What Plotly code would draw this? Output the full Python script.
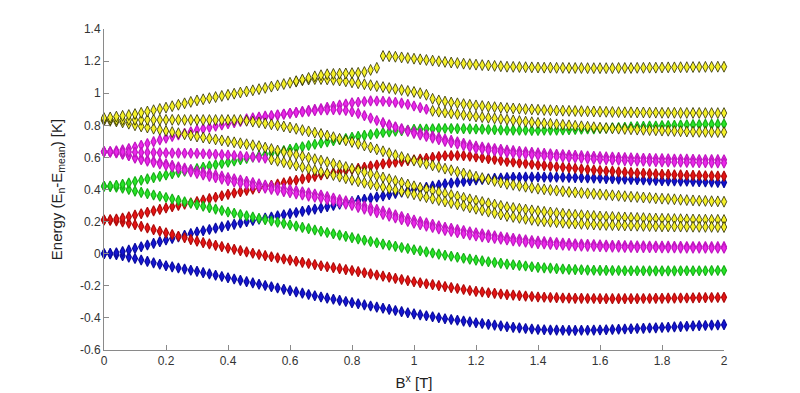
import plotly.graph_objects as go

# Field grid B^x [T] (sample points, step 0.02 T)
field = [round(0.02 * i, 2) for i in range(101)]

# Energy levels [K]; each series: (start field, values)
blue_low = [0, -0.002, -0.006, -0.013, -0.021, -0.030,
            -0.039, -0.048, -0.057, -0.066, -0.075, -0.082, -0.089, -0.096, -0.103, -0.110,
            -0.118, -0.126, -0.134, -0.142, -0.150, -0.158, -0.166, -0.174, -0.182, -0.190,
            -0.198, -0.206, -0.214, -0.222, -0.230, -0.238, -0.246, -0.254, -0.262, -0.270,
            -0.277, -0.284, -0.291, -0.298, -0.305, -0.312, -0.319, -0.326, -0.333, -0.340,
            -0.347, -0.354, -0.361, -0.368, -0.375, -0.381, -0.387, -0.393, -0.399, -0.405,
            -0.410, -0.415, -0.420, -0.425, -0.430, -0.435, -0.440, -0.445, -0.450, -0.455,
            -0.459, -0.462, -0.466, -0.469, -0.472, -0.474, -0.475, -0.476, -0.477, -0.478,
            -0.478, -0.477, -0.477, -0.476, -0.475, -0.474, -0.472, -0.471, -0.469, -0.468,
            -0.466, -0.465, -0.463, -0.462, -0.460, -0.458, -0.456, -0.454, -0.452, -0.450,
            -0.448, -0.447, -0.445, -0.444, -0.442]
blue_up = [0, 0.002, 0.006, 0.013, 0.022, 0.033,
           0.043, 0.054, 0.064, 0.075, 0.085, 0.095, 0.105, 0.115, 0.125, 0.135,
           0.143, 0.151, 0.159, 0.167, 0.175, 0.183, 0.191, 0.199, 0.207, 0.215,
           0.222, 0.229, 0.236, 0.243, 0.250, 0.257, 0.264, 0.271, 0.278, 0.285,
           0.293, 0.301, 0.309, 0.317, 0.325, 0.332, 0.339, 0.346, 0.353, 0.360,
           0.368, 0.376, 0.384, 0.392, 0.400, 0.407, 0.414, 0.421, 0.428, 0.435,
           0.440, 0.445, 0.450, 0.455, 0.460, 0.463, 0.466, 0.469, 0.472, 0.475,
           0.476, 0.476, 0.477, 0.477, 0.478, 0.477, 0.477, 0.476, 0.476, 0.475,
           0.474, 0.473, 0.472, 0.471, 0.470, 0.468, 0.467, 0.465, 0.464, 0.462,
           0.461, 0.459, 0.458, 0.456, 0.455, 0.454, 0.453, 0.452, 0.451, 0.450,
           0.449, 0.447, 0.446, 0.444, 0.443]
red_low = [0.210, 0.208, 0.204, 0.198, 0.190, 0.180,
           0.170, 0.160, 0.150, 0.140, 0.130, 0.120, 0.109, 0.099, 0.088, 0.078,
           0.069, 0.061, 0.052, 0.044, 0.035, 0.027, 0.019, 0.011, 0.003, -0.005,
           -0.012, -0.019, -0.026, -0.033, -0.040, -0.047, -0.054, -0.061, -0.068, -0.075,
           -0.081, -0.087, -0.093, -0.099, -0.105, -0.112, -0.119, -0.126, -0.133, -0.140,
           -0.147, -0.154, -0.161, -0.168, -0.175, -0.181, -0.187, -0.193, -0.199, -0.205,
           -0.211, -0.217, -0.223, -0.229, -0.235, -0.239, -0.243, -0.247, -0.251, -0.255,
           -0.258, -0.261, -0.264, -0.267, -0.270, -0.271, -0.273, -0.274, -0.276, -0.277,
           -0.278, -0.278, -0.279, -0.279, -0.280, -0.280, -0.280, -0.280, -0.280, -0.280,
           -0.280, -0.279, -0.279, -0.278, -0.278, -0.277, -0.277, -0.276, -0.276, -0.275,
           -0.274, -0.274, -0.273, -0.273, -0.272]
red_up = [0.210, 0.212, 0.216, 0.222, 0.230, 0.240,
          0.249, 0.258, 0.267, 0.276, 0.285, 0.293, 0.301, 0.309, 0.317, 0.325,
          0.334, 0.343, 0.352, 0.361, 0.370, 0.378, 0.386, 0.394, 0.402, 0.410,
          0.418, 0.426, 0.434, 0.442, 0.450, 0.458, 0.466, 0.474, 0.482, 0.490,
          0.497, 0.504, 0.511, 0.518, 0.525, 0.532, 0.539, 0.546, 0.553, 0.560,
          0.565, 0.570, 0.575, 0.580, 0.585, 0.590, 0.595, 0.600, 0.605, 0.610,
          0.611, 0.612, 0.611, 0.608, 0.603, 0.598, 0.592, 0.587, 0.581, 0.575,
          0.571, 0.566, 0.562, 0.557, 0.553, 0.549, 0.546, 0.542, 0.539, 0.535,
          0.532, 0.528, 0.525, 0.521, 0.518, 0.515, 0.513, 0.510, 0.508, 0.505,
          0.503, 0.501, 0.499, 0.497, 0.495, 0.494, 0.492, 0.491, 0.489, 0.488,
          0.487, 0.486, 0.485, 0.484, 0.483]
green_low = [0.420, 0.418, 0.414, 0.408, 0.400, 0.390,
             0.382, 0.374, 0.366, 0.358, 0.350, 0.341, 0.332, 0.323, 0.314, 0.305,
             0.296, 0.287, 0.278, 0.269, 0.260, 0.252, 0.244, 0.236, 0.228, 0.220,
             0.212, 0.204, 0.196, 0.188, 0.180, 0.172, 0.164, 0.156, 0.148, 0.140,
             0.132, 0.124, 0.116, 0.108, 0.100, 0.092, 0.084, 0.076, 0.068, 0.060,
             0.053, 0.046, 0.039, 0.032, 0.025, 0.018, 0.011, 0.004, -0.003, -0.010,
             -0.016, -0.022, -0.028, -0.034, -0.040, -0.045, -0.050, -0.055, -0.060, -0.065,
             -0.069, -0.073, -0.077, -0.081, -0.085, -0.088, -0.090, -0.093, -0.095, -0.098,
             -0.099, -0.100, -0.102, -0.103, -0.104, -0.104, -0.105, -0.105, -0.106, -0.106,
             -0.106, -0.106, -0.107, -0.107, -0.107, -0.107, -0.107, -0.106, -0.106, -0.106,
             -0.106, -0.106, -0.105, -0.105, -0.105]
green_up = [0.420, 0.422, 0.426, 0.432, 0.440, 0.450,
            0.458, 0.466, 0.474, 0.482, 0.490, 0.498, 0.506, 0.514, 0.522, 0.530,
            0.538, 0.546, 0.554, 0.562, 0.570, 0.578, 0.586, 0.594, 0.602, 0.610,
            0.618, 0.626, 0.634, 0.642, 0.650, 0.658, 0.666, 0.674, 0.682, 0.690,
            0.697, 0.704, 0.711, 0.718, 0.725, 0.731, 0.737, 0.743, 0.749, 0.755,
            0.759, 0.763, 0.767, 0.771, 0.775, 0.776, 0.777, 0.778, 0.779, 0.780,
            0.780, 0.779, 0.779, 0.778, 0.777, 0.776, 0.774, 0.773, 0.771, 0.770,
            0.770, 0.769, 0.769, 0.768, 0.768, 0.769, 0.770, 0.770, 0.771, 0.772,
            0.774, 0.775, 0.777, 0.778, 0.780, 0.782, 0.784, 0.786, 0.788, 0.790,
            0.792, 0.793, 0.795, 0.796, 0.798, 0.799, 0.800, 0.802, 0.803, 0.804,
            0.805, 0.806, 0.806, 0.807, 0.808]
mag_down = [0.635, 0.633, 0.629, 0.622, 0.612, 0.600,
            0.592, 0.584, 0.576, 0.568, 0.560, 0.551, 0.542, 0.533, 0.524, 0.515,
            0.507, 0.499, 0.491, 0.483, 0.475, 0.467, 0.459, 0.451, 0.443, 0.435,
            0.428, 0.421, 0.414, 0.407, 0.400, 0.393, 0.386, 0.379, 0.372, 0.365,
            0.356, 0.347, 0.338, 0.329, 0.320, 0.309, 0.298, 0.287, 0.276, 0.265,
            0.254, 0.243, 0.232, 0.221, 0.210, 0.201, 0.192, 0.183, 0.174, 0.165,
            0.158, 0.151, 0.144, 0.137, 0.130, 0.124, 0.118, 0.112, 0.106, 0.100,
            0.096, 0.091, 0.087, 0.082, 0.078, 0.075, 0.072, 0.070, 0.067, 0.064,
            0.062, 0.060, 0.059, 0.057, 0.055, 0.054, 0.053, 0.052, 0.051, 0.050,
            0.049, 0.049, 0.048, 0.048, 0.047, 0.047, 0.046, 0.046, 0.045, 0.045,
            0.045, 0.045, 0.044, 0.044, 0.044]
mag_down2 = [0.635, 0.632, 0.628, 0.620, 0.610, 0.595,
             0.586, 0.577, 0.568, 0.559, 0.550, 0.540, 0.530, 0.520, 0.510, 0.500,
             0.491, 0.482, 0.473, 0.464, 0.455, 0.447, 0.439, 0.431, 0.423, 0.415,
             0.408, 0.401, 0.394, 0.387, 0.380, 0.373, 0.366, 0.359, 0.352, 0.345,
             0.336, 0.327, 0.318, 0.309, 0.300, 0.289, 0.278, 0.267, 0.256, 0.245,
             0.234, 0.223, 0.212, 0.201, 0.190, 0.181, 0.172, 0.163, 0.154, 0.145,
             0.138, 0.131, 0.124, 0.117, 0.110, 0.105, 0.100, 0.095, 0.090, 0.085,
             0.080, 0.076, 0.072, 0.067, 0.063, 0.061, 0.058, 0.056, 0.053, 0.051,
             0.049, 0.047, 0.046, 0.045, 0.043, 0.042, 0.041, 0.040, 0.039, 0.039,
             0.038, 0.038, 0.037, 0.037, 0.036, 0.036, 0.036, 0.035, 0.035, 0.035,
             0.035, 0.034, 0.034, 0.034, 0.034]
mag_top = [0.635, 0.637, 0.641, 0.647, 0.655, 0.665,
           0.676, 0.687, 0.698, 0.709, 0.720, 0.730, 0.740, 0.750, 0.760, 0.770,
           0.778, 0.786, 0.794, 0.802, 0.810, 0.817, 0.824, 0.831, 0.838, 0.845,
           0.851, 0.857, 0.863, 0.869, 0.875, 0.881, 0.887, 0.893, 0.899, 0.905,
           0.912, 0.919, 0.926, 0.933, 0.940, 0.944, 0.948, 0.952, 0.951, 0.950,
           0.947, 0.943, 0.938, 0.930, 0.920, 0.910, 0.900]
mag_flat = [0.635, 0.635, 0.634, 0.634, 0.633, 0.632, 0.631, 0.631, 0.630, 0.629,
            0.628, 0.627, 0.627, 0.626, 0.626, 0.625, 0.623, 0.621, 0.619, 0.617,
            0.615, 0.612, 0.609, 0.606, 0.603, 0.600, 0.595]
mag_b_start = 0.46
mag_b = [0.840, 0.846, 0.852, 0.857, 0.861, 0.866, 0.870, 0.875, 0.879, 0.883,
         0.887, 0.891, 0.895, 0.896, 0.897, 0.896, 0.892, 0.885, 0.874, 0.860,
         0.845, 0.830, 0.815, 0.803, 0.791, 0.779, 0.769, 0.760, 0.751, 0.742,
         0.733, 0.724, 0.715, 0.706, 0.697, 0.688, 0.679, 0.670, 0.665, 0.660,
         0.655, 0.650, 0.645, 0.642, 0.638, 0.635, 0.631, 0.628, 0.625, 0.623,
         0.620, 0.618, 0.615, 0.613, 0.611, 0.609, 0.607, 0.605, 0.603, 0.602,
         0.600, 0.599, 0.597, 0.596, 0.595, 0.594, 0.593, 0.592, 0.591, 0.590,
         0.590, 0.589, 0.588, 0.587, 0.587, 0.586, 0.586, 0.585]
mag_b2_start = 0.90
mag_b2 = [0.815, 0.801, 0.788, 0.775, 0.762, 0.750, 0.740, 0.730, 0.720, 0.710,
          0.700, 0.691, 0.682, 0.673, 0.664, 0.655, 0.650, 0.645, 0.640, 0.635,
          0.630, 0.626, 0.623, 0.619, 0.616, 0.612, 0.609, 0.606, 0.604, 0.601,
          0.598, 0.596, 0.594, 0.591, 0.589, 0.587, 0.585, 0.583, 0.582, 0.580,
          0.578, 0.577, 0.576, 0.575, 0.573, 0.572, 0.571, 0.570, 0.570, 0.569,
          0.568, 0.567, 0.567, 0.566, 0.566, 0.565]
yel_rise = [0.845, 0.849, 0.854, 0.859, 0.864, 0.870,
            0.878, 0.886, 0.894, 0.902, 0.910, 0.919, 0.928, 0.937, 0.946, 0.955,
            0.962, 0.969, 0.976, 0.983, 0.990, 0.997, 1.004, 1.011, 1.018, 1.025,
            1.033, 1.041, 1.049, 1.057, 1.065, 1.075, 1.085, 1.095, 1.105, 1.112,
            1.118, 1.120, 1.122, 1.123, 1.125, 1.127, 1.132, 1.145, 1.158]
yel_a_start = 0.62
yel_a = [1.072, 1.080, 1.085, 1.088, 1.088, 1.086, 1.083, 1.079, 1.074, 1.068,
         1.062, 1.056, 1.050, 1.044, 1.038, 1.032, 1.026, 1.020, 1.014, 1.008,
         1.000, 0.990, 0.965, 0.955, 0.948, 0.942, 0.937, 0.932, 0.928, 0.924,
         0.920, 0.916, 0.913, 0.910, 0.907, 0.905, 0.903, 0.901, 0.899, 0.897,
         0.895, 0.894, 0.892, 0.891, 0.890, 0.889, 0.888, 0.887, 0.886, 0.885,
         0.884, 0.883, 0.882, 0.881, 0.881, 0.880, 0.880, 0.879, 0.879, 0.878,
         0.878, 0.878, 0.877, 0.877, 0.877, 0.877, 0.876, 0.876, 0.876, 0.876]
yel_top_start = 0.90
yel_top = [1.232, 1.230, 1.227, 1.223, 1.219, 1.215, 1.211, 1.207, 1.203, 1.199,
           1.195, 1.191, 1.188, 1.184, 1.181, 1.178, 1.175, 1.173, 1.170, 1.168,
           1.165, 1.164, 1.163, 1.162, 1.161, 1.160, 1.159, 1.159, 1.158, 1.158,
           1.157, 1.157, 1.157, 1.156, 1.156, 1.156, 1.156, 1.156, 1.157, 1.157,
           1.157, 1.158, 1.158, 1.159, 1.159, 1.160, 1.161, 1.161, 1.162, 1.162,
           1.163, 1.163, 1.164, 1.164, 1.165, 1.165]
yel_b_start = 1.06
yel_b = [0.890, 0.885, 0.880, 0.875, 0.870, 0.865, 0.860, 0.855, 0.851, 0.847,
         0.843, 0.839, 0.835, 0.831, 0.827, 0.823, 0.819, 0.815, 0.812, 0.809,
         0.806, 0.803, 0.800, 0.797, 0.794, 0.791, 0.788, 0.785, 0.783, 0.781,
         0.779, 0.777, 0.775, 0.773, 0.772, 0.770, 0.769, 0.767, 0.766, 0.764,
         0.763, 0.761, 0.760, 0.759, 0.759, 0.758, 0.758, 0.757]
yel_flat = [0.835, 0.835, 0.834, 0.834, 0.834, 0.834, 0.834, 0.834, 0.834, 0.834,
            0.834, 0.834, 0.834, 0.833, 0.833, 0.833, 0.833, 0.833, 0.833, 0.833,
            0.833, 0.833, 0.833]
yel_c_start = 0.46
yel_c = [0.828, 0.823, 0.818, 0.812, 0.806, 0.800, 0.793, 0.786, 0.778, 0.770,
         0.762, 0.754, 0.746, 0.736, 0.726, 0.716, 0.706, 0.696, 0.685, 0.674,
         0.662, 0.650, 0.638, 0.626, 0.614, 0.602, 0.591, 0.580, 0.570, 0.560,
         0.550, 0.540, 0.530, 0.520, 0.510, 0.500, 0.490, 0.480, 0.471, 0.462,
         0.453, 0.444, 0.435, 0.429, 0.423, 0.417, 0.411, 0.405, 0.401, 0.397,
         0.393, 0.389, 0.385, 0.382, 0.379, 0.376, 0.373, 0.370, 0.367, 0.364,
         0.361, 0.358, 0.355, 0.353, 0.350, 0.348, 0.345, 0.343, 0.341, 0.339,
         0.336, 0.334, 0.332, 0.330, 0.329, 0.327, 0.326, 0.324]
yel_d_start = 0.54
yel_d = [0.587, 0.579, 0.570, 0.560, 0.550, 0.540, 0.530, 0.520, 0.510, 0.500,
         0.490, 0.480, 0.470, 0.460, 0.451, 0.442, 0.433, 0.424, 0.415, 0.406,
         0.397, 0.388, 0.379, 0.370, 0.361, 0.352, 0.343, 0.334, 0.325, 0.316,
         0.307, 0.298, 0.289, 0.280, 0.271, 0.262, 0.253, 0.244, 0.235, 0.229,
         0.223, 0.217, 0.211, 0.205, 0.202, 0.199, 0.196, 0.193, 0.190, 0.188,
         0.186, 0.184, 0.182, 0.180, 0.179, 0.178, 0.177, 0.176, 0.175, 0.174,
         0.173, 0.172, 0.171, 0.170, 0.170, 0.169, 0.169, 0.168, 0.168, 0.167,
         0.167, 0.167, 0.166, 0.166]
yel_desc = [0.830, 0.828, 0.824, 0.818, 0.810, 0.800,
            0.793, 0.786, 0.779, 0.772, 0.765, 0.758, 0.751, 0.744, 0.737, 0.730,
            0.724, 0.718, 0.712, 0.706, 0.700, 0.694, 0.688, 0.682, 0.676, 0.670,
            0.661, 0.652, 0.643, 0.634, 0.625, 0.616, 0.607, 0.598, 0.589, 0.580,
            0.570, 0.560, 0.550, 0.540, 0.530, 0.519, 0.508, 0.497, 0.486, 0.475,
            0.464, 0.453, 0.442, 0.431, 0.420, 0.411, 0.402, 0.393, 0.384, 0.375,
            0.366, 0.357, 0.348, 0.339, 0.330, 0.322, 0.314, 0.306, 0.298, 0.290,
            0.285, 0.280, 0.275, 0.270, 0.265, 0.261, 0.257, 0.253, 0.249, 0.245,
            0.242, 0.240, 0.237, 0.235, 0.232, 0.230, 0.229, 0.227, 0.226, 0.224,
            0.223, 0.222, 0.220, 0.219, 0.218, 0.217, 0.216, 0.215, 0.214, 0.213,
            0.212, 0.212, 0.211, 0.211, 0.210]

y_tick_vals = [-0.6, -0.4, -0.2, 0, 0.2, 0.4, 0.6, 0.8, 1.0, 1.2, 1.4]
y_tick_text = ["-0.6", "-0.4", "-0.2", "0", "0.2", "0.4", "0.6", "0.8", "1", "1.2", "1.4"]
x_tick_vals = [0, 0.2, 0.4, 0.6, 0.8, 1.0, 1.2, 1.4, 1.6, 1.8, 2.0]
x_tick_text = ["0", "0.2", "0.4", "0.6", "0.8", "1", "1.2", "1.4", "1.6", "1.8", "2"]

# (fill, edge colour, edge width)
COLORS = {
    "blue": ("#1414d2", "#0c0ca0", 1.2),
    "red": ("#e61414", "#b00c0c", 1.2),
    "green": ("#28e628", "#18b018", 1.2),
    "magenta": ("#eb28eb", "#c018c0", 1.2),
    "yellow": ("#f5f028", "#2a2a00", 0.8),
}

series = [
    ("blue", 0.0, blue_low), ("blue", 0.0, blue_up),
    ("red", 0.0, red_low), ("red", 0.0, red_up),
    ("green", 0.0, green_low), ("green", 0.0, green_up),
    ("magenta", 0.0, mag_down), ("magenta", 0.0, mag_down2),
    ("magenta", 0.0, mag_top), ("magenta", 0.0, mag_flat),
    ("magenta", mag_b_start, mag_b), ("magenta", mag_b2_start, mag_b2),
    ("yellow", 0.0, yel_desc), ("yellow", yel_d_start, yel_d),
    ("yellow", yel_c_start, yel_c), ("yellow", 0.0, yel_flat),
    ("yellow", yel_b_start, yel_b), ("yellow", yel_a_start, yel_a),
    ("yellow", 0.0, yel_rise), ("yellow", yel_top_start, yel_top),
]

fig = go.Figure()
for color, start, vals in series:
    i0 = field.index(round(start, 2))
    xs = field[i0:i0 + len(vals)]
    fill, edge, ew = COLORS[color]
    fig.add_trace(go.Scatter(
        x=xs, y=vals, mode="markers", cliponaxis=False, showlegend=False,
        marker=dict(symbol="diamond-tall", size=7.2 if color != "yellow" else 7.8,
                    color=fill, line=dict(color=edge, width=ew)),
    ))

axis_font = dict(family="Liberation Sans, Arial, sans-serif", size=12, color="#333333")
fig.update_layout(
    width=800, height=393,
    margin=dict(l=96, r=84, t=21, b=51),
    paper_bgcolor="white", plot_bgcolor="white",
    font=axis_font,
)
fig.update_xaxes(
    range=[0, 2], tickvals=x_tick_vals, ticktext=x_tick_text, automargin=False,
    showline=True, linecolor="#8a8a8a", linewidth=1, ticks="inside", ticklen=5,
    tickcolor="#8a8a8a", showgrid=False, zeroline=False, mirror=False,
    title=dict(text="B<sup>x</sup> [T]", font=dict(size=15, color="#222222"), standoff=10),
)
fig.update_yaxes(
    range=[-0.6, 1.4], tickvals=y_tick_vals, ticktext=y_tick_text, automargin=False,
    showline=True, linecolor="#8a8a8a", linewidth=1, ticks="inside", ticklen=5,
    tickcolor="#8a8a8a", showgrid=False, zeroline=False, mirror=False,
    title=dict(text="Energy (E<sub>n</sub>-E<sub>mean</sub>) [K]",
               font=dict(size=15, color="#222222"), standoff=13),
)
fig.write_html("out.html")
